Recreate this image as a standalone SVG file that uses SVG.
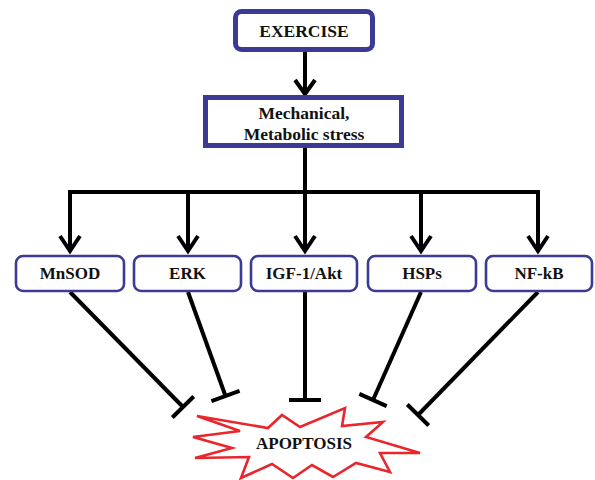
<svg xmlns="http://www.w3.org/2000/svg" width="595" height="480" viewBox="0 0 595 480">
<style>
text{font-family:'Liberation Serif','DejaVu Serif',serif;font-weight:bold;fill:#111;text-anchor:middle}
.main{fill:#fff;stroke:#3b3b96;stroke-width:5}
.sub{fill:#fff;stroke:#3b3b96;stroke-width:2.6}
.conn{fill:none;stroke:#000;stroke-width:4}
.head{fill:none;stroke:#000;stroke-width:4;stroke-linejoin:miter}
</style>
<rect width="595" height="480" fill="#fff"/>
<g id="connectors">
<line class="conn" x1="305" y1="52" x2="305" y2="94"/>
<polyline class="head" points="295,80 305,94 315,80"/>
<polyline class="conn" points="305,148 305,192"/>
<polyline class="conn" points="70,251 70,192 538,192 538,251"/>
<line class="conn" x1="188" y1="192" x2="188" y2="251"/>
<line class="conn" x1="305" y1="192" x2="305" y2="251"/>
<line class="conn" x1="421" y1="192" x2="421" y2="251"/>
<polyline class="head" points="60,236 70,251 80,236"/>
<polyline class="head" points="178,236 188,251 198,236"/>
<polyline class="head" points="295,236 305,251 315,236"/>
<polyline class="head" points="411,236 421,251 431,236"/>
<polyline class="head" points="528,236 538,251 548,236"/>
<line class="conn" x1="70" y1="292" x2="183" y2="407"/>
<line class="conn" x1="172.3" y1="417.5" x2="193.7" y2="396.5"/>
<line class="conn" x1="188" y1="292" x2="225.5" y2="396"/>
<line class="conn" x1="211.4" y1="401.1" x2="239.6" y2="390.9"/>
<line class="conn" x1="305" y1="292" x2="305" y2="400"/>
<line class="conn" x1="289" y1="400" x2="321" y2="400"/>
<line class="conn" x1="421" y1="292" x2="373" y2="400"/>
<line class="conn" x1="359.3" y1="393.9" x2="386.7" y2="406.1"/>
<line class="conn" x1="538" y1="292" x2="418" y2="415"/>
<line class="conn" x1="407.3" y1="404.5" x2="428.7" y2="425.5"/>
</g>
<g id="exercise">
<rect class="main" x="235.5" y="11.5" width="137" height="38" rx="6"/>
<text x="304" y="37" font-size="17.5" font-family="Liberation Serif">EXERCISE</text>
</g>
<g id="stress">
<rect class="main" x="205.5" y="97.5" width="196" height="48"/>
<text x="304" y="119" font-size="17.5" font-family="Liberation Serif">Mechanical,</text>
<text x="304" y="140" font-size="17.5" font-family="Liberation Serif">Metabolic stress</text>
</g>
<g id="mnsod">
<rect class="sub" x="16" y="256" width="108" height="35" rx="7"/>
<text x="70" y="279" font-size="17" font-family="Liberation Serif">MnSOD</text>
</g>
<g id="erk">
<rect class="sub" x="134" y="256" width="107" height="35" rx="7"/>
<text x="187.5" y="279" font-size="17" font-family="Liberation Serif">ERK</text>
</g>
<g id="igf">
<rect class="sub" x="251" y="256" width="106" height="35" rx="7"/>
<text x="304" y="279" font-size="17" font-family="Liberation Serif">IGF-1/Akt</text>
</g>
<g id="hsps">
<rect class="sub" x="368" y="256" width="108" height="35" rx="7"/>
<text x="422" y="279" font-size="17" font-family="Liberation Serif">HSPs</text>
</g>
<g id="nfkb">
<rect class="sub" x="486" y="256" width="106" height="35" rx="7"/>
<text x="539" y="279" font-size="17" font-family="Liberation Serif">NF-kB</text>
</g>
<g id="apoptosis">
<polygon fill="#fff" stroke="#e8262b" stroke-width="2.6" stroke-linejoin="miter" points="193,437 240,431 197,416 268,428 282,415 300,427 345,408 342,426 383,422 366,437 420,453 380,453 390,472 356,463 333,477 312,465 293,478 272,464 241,478 249,457 195,458 232,448"/>
<text x="304" y="449" font-size="17" font-family="Liberation Serif">APOPTOSIS</text>
</g>
</svg>
